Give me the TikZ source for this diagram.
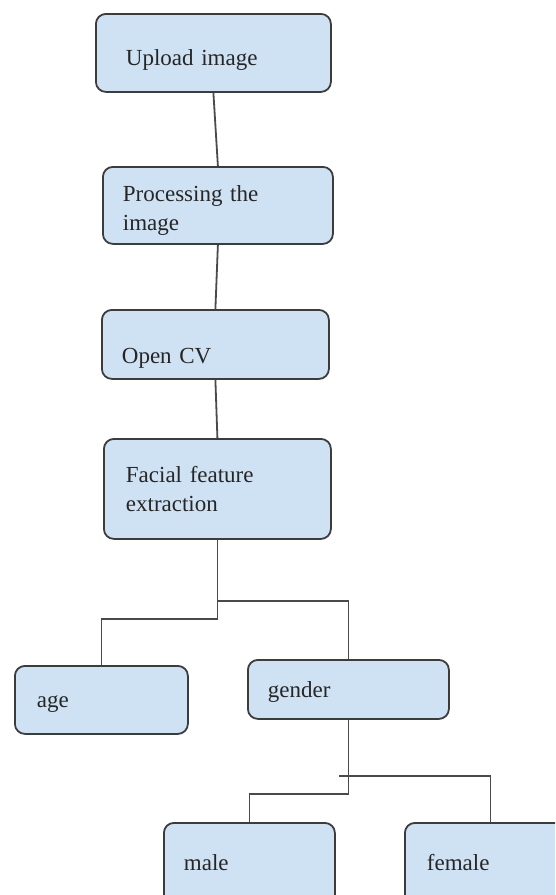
\documentclass[tikz,border=0pt]{standalone}
\usepackage{fontspec}
\newfontfamily\boxfont{Liberation Serif}
\usetikzlibrary{
  positioning,  % Function "of" (e.g. [right=of x])
  calc,         % Calculations $...$
}
\definecolor{boxfill}{HTML}{CFE2F3}
\definecolor{boxline}{HTML}{3C3C3C}
\definecolor{wire}{HTML}{4A4A4A}
\def\mylw{1.8pt}
\def\mybaselines{34pt}
\tikzset{
  my box/.style={
    draw=boxline,
    fill=boxfill,
    line width=\mylw,
    rounded corners=10pt,
    anchor=north west,
    inner xsep=20pt,
    inner ysep=0pt,
    align=left,
    text=black!85,
    text depth=5pt,
    font=\boxfont\fontsize{23}{29}\selectfont
  },
  my two lines/.style={
    text depth=\mybaselines
  },
  my wire/.style={
    draw=wire,
    line width=\mylw
  }
}
\begin{document}
\begin{tikzpicture}[x=1pt,y=-1pt]
\useasboundingbox (0,0) rectangle (555,895);
\clip (0,0) rectangle (555,895);
\node[my box,inner xsep=30pt,text width=175pt,minimum height=78pt,text height=31pt]
  (upload) at (95,13) {Upload image};
\node[my box,my two lines,text width=190pt,minimum height=77pt,text height=27pt]
  (process) at (102,166) {Processing the\\image};
\node[my box,text width=187pt,minimum height=69pt,text height=44pt]
  (opencv) at (101,309) {Open CV};
\node[my box,my two lines,inner xsep=22pt,text width=183pt,minimum height=100pt,text height=22pt]
  (facial) at (103,438) {Facial feature\\extraction};
\node[my box,inner xsep=22pt,text width=129pt,minimum height=68pt,text height=21pt]
  (age) at (14,665) {age};
\node[my box,text width=161pt,minimum height=59pt,text height=22pt]
  (gender) at (247,659) {gender};
\node[my box,text width=131pt,minimum height=83pt,text height=18pt]
  (male) at (163,822) {male};
\node[my box,inner xsep=22pt,text width=127pt,minimum height=83pt,text height=18pt]
  (female) at (404,822) {female};
% straight chain
\draw[my wire] (upload.south) -- (process.north);
\draw[my wire] (process.south) -- (opencv.north);
\draw[my wire] (opencv.south) -- (facial.north);
% first split
\coordinate (split1) at ($(facial.south)+(0,61)$);
\coordinate (split2) at ($(facial.south)+(0,79)$);
\draw[my wire] (facial.south) -- (split2) -| (age.north);
\draw[my wire] (split1) -| (gender.north);
% second split
\coordinate (split3) at ($(gender.south)+(0,74)$);
\coordinate (split4) at ($(gender.south)+(-9,56)$);
\draw[my wire] (gender.south) -- (split3) -| (male.north);
\draw[my wire] (split4) -| (female.north);
\end{tikzpicture}
\end{document}
